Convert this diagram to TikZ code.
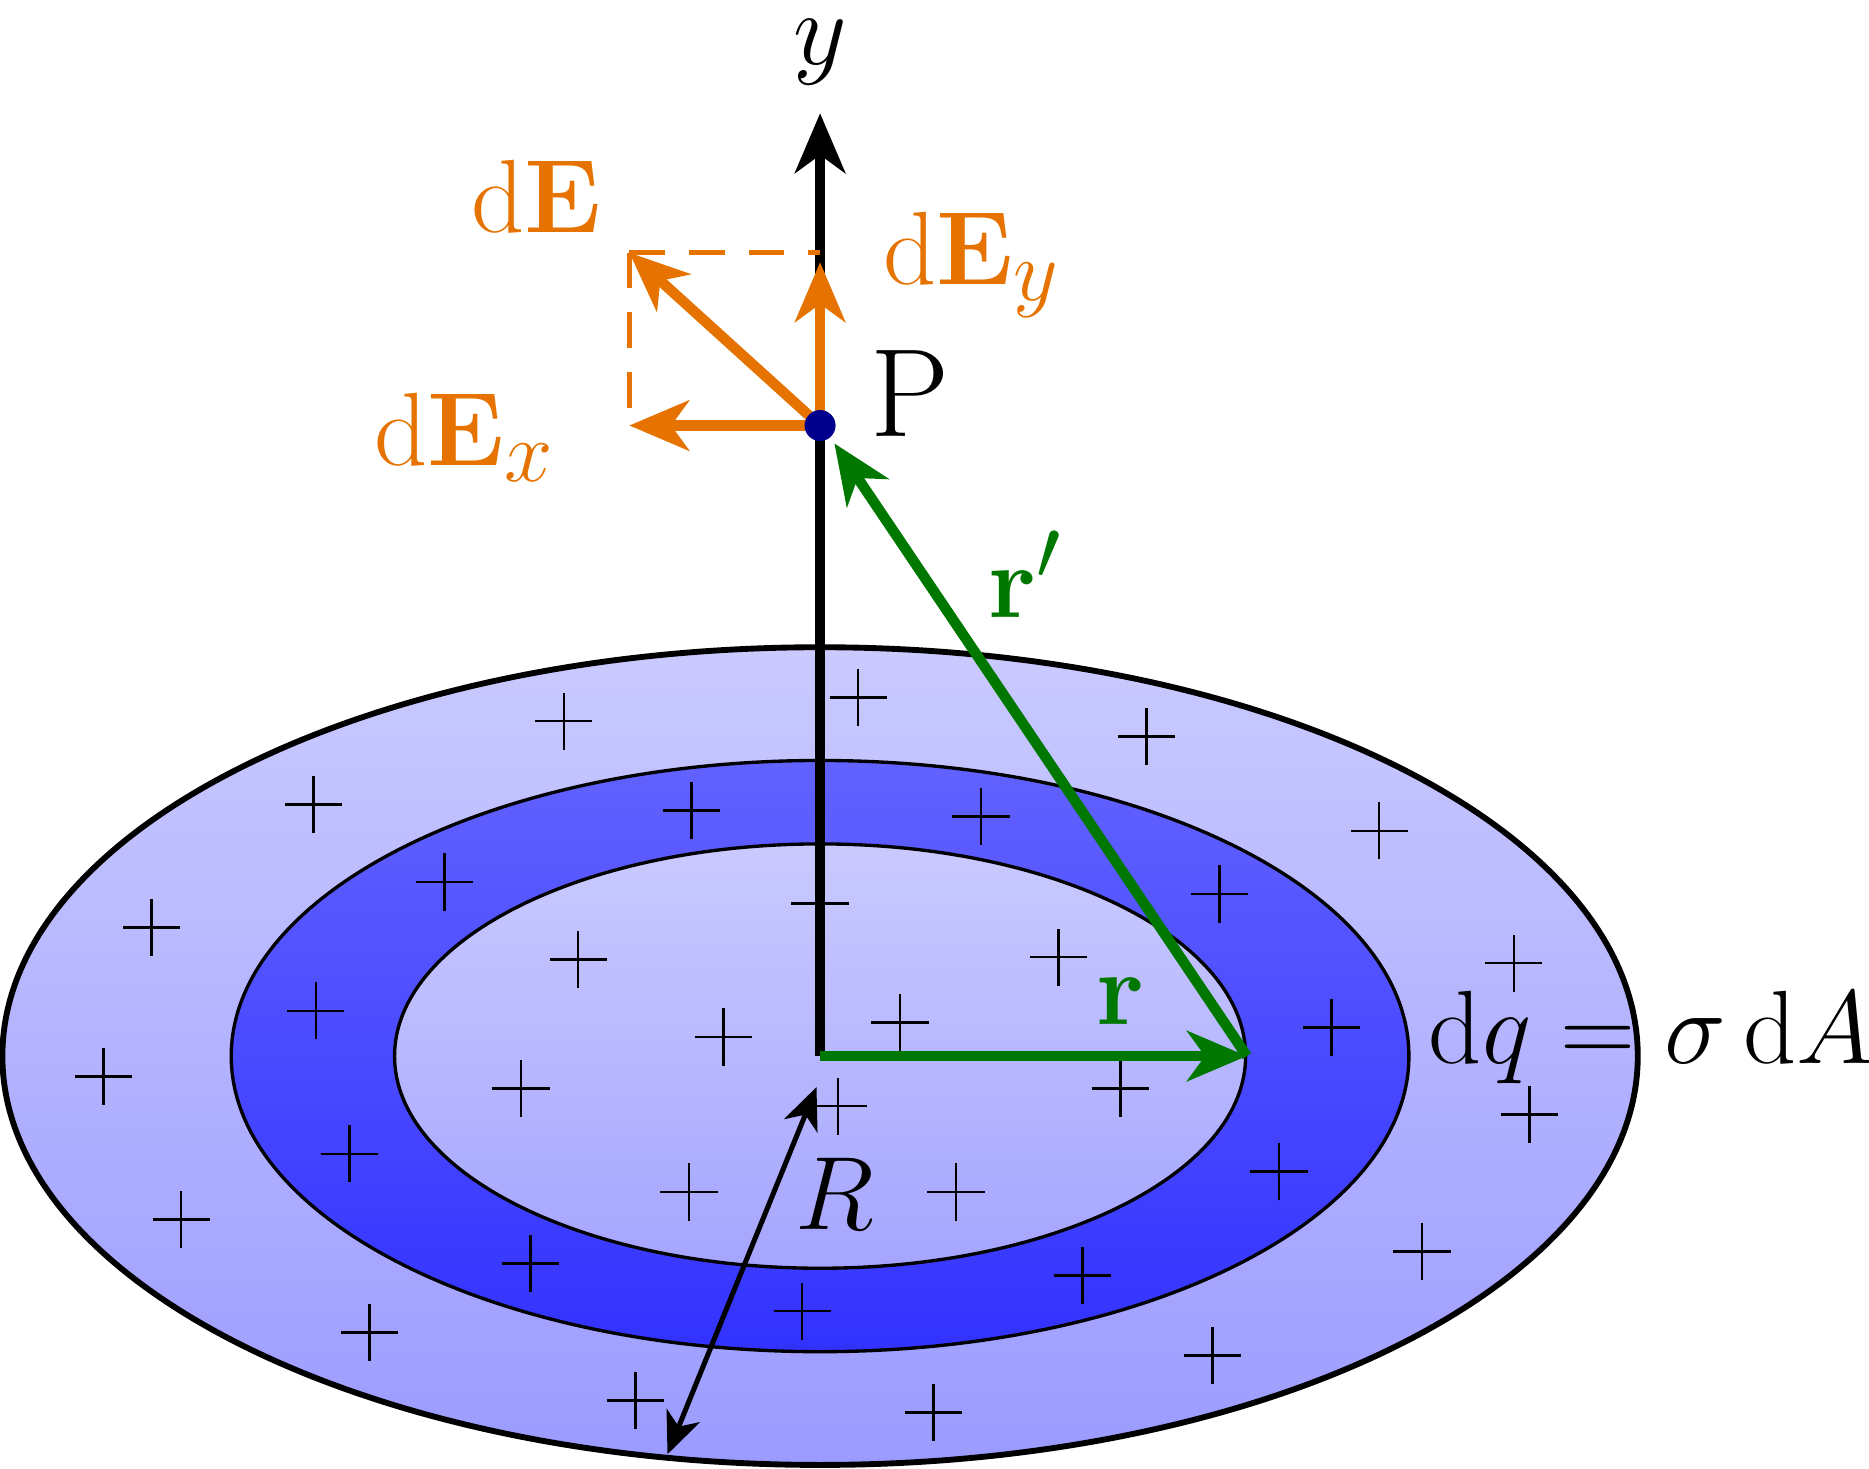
\documentclass[tikz,border=0pt]{standalone}
\usepackage{amsmath}
\usetikzlibrary{arrows.meta}
\definecolor{orng}{RGB}{230,115,0}
\definecolor{grn}{RGB}{0,120,0}
\definecolor{navy}{RGB}{0,0,140}
\definecolor{lt1}{RGB}{202,202,255}
\definecolor{lt2}{RGB}{155,155,255}
\definecolor{dk1}{RGB}{98,98,255}
\definecolor{dk2}{RGB}{50,50,255}
\tikzset{
  tip/.style={-{Stealth[length=0.5cm,width=0.42cm,inset=0.15cm]}},
  lbl/.style={font=\fontsize{30}{34}\selectfont, inner sep=0pt},
  pls/.style={line width=0.6pt},
}
\newcommand{\pl}[2]{\draw[pls] ({#1/100-0.24},{(1232-#2)/100}) -- ({#1/100+0.24},{(1232-#2)/100}) ({#1/100},{(1232-#2)/100-0.24}) -- ({#1/100},{(1232-#2)/100+0.24});}
\begin{document}
\begin{tikzpicture}
\useasboundingbox (0,0) rectangle (15.68,12.32);
\coordinate (O) at (6.88,3.46);
\shade[top color=lt1,bottom color=lt2,draw=black,line width=1.4pt] (O) ellipse [x radius=6.86,y radius=3.43];
\shade[top color=dk1,bottom color=dk2,draw=black,line width=0.8pt] (O) ellipse [x radius=4.94,y radius=2.48];
\shade[top color=lt1,bottom color=lt2!90!white,draw=black,line width=0.8pt] (O) ellipse [x radius=3.57,y radius=1.78];
\foreach \a/\b in {473/605,720/585,962/618,263/675,580/680,823/685,1157/697,373/740,1023/750,688/758,127/778,485/805,888/803,1270/808,265/848,755/858,607/870,1117/862,87/903,437/913,940/913,703/928,1283/935,293/968,1073/983,152/1023,578/1000,802/1000,1193/1050,445/1060,908/1070,673/1100,310/1118,1017/1137,533/1175,783/1185}{\pl{\a}{\b}}
\coordinate (P) at (6.88,8.75);
\coordinate (Rin) at (6.85,3.2);
\coordinate (Rout) at (5.6,0.12);
\coordinate (Q) at (10.46,3.46);
\coordinate (Ex) at (5.28,8.75);
\coordinate (Eyc) at (6.88,10.2);
\coordinate (E) at (5.28,10.2);
\draw[line width=2.5pt,tip] (O) -- (6.88,11.37);
\node[lbl] (ylab) at (6.88,11.88) {$y$};
\draw[orng,dash pattern=on 0.3cm off 0.2cm,line width=1.2pt] (E) -- (Eyc) (E) -- (Ex);
\draw[orng,line width=2.5pt,tip] (P) -- (Ex);
\draw[orng,line width=2.5pt,tip] (P) -- (6.88,10.12);
\draw[orng,line width=2.5pt,tip] (P) -- (E);
\draw[grn,line width=2.5pt,tip] (O) -- (Q);
\draw[grn,line width=2.5pt,tip] (Q) -- (7.0,8.6);
\draw[line width=1.2pt,{Stealth[length=0.35cm,width=0.3cm,inset=0.1cm]}-{Stealth[length=0.35cm,width=0.3cm,inset=0.1cm]}] (Rin) -- (Rout);
\fill[navy] (P) circle (0.13);
\node[lbl] (Plab) at (7.63,9.02) {P};
\node[lbl,text=orng] (dE) at (4.5,10.67) {$\mathrm{d}\mathbf{E}$};
\node[lbl,text=orng] (dEy) at (8.15,10.1) {$\mathrm{d}\mathbf{E}_y$};
\node[lbl,text=orng] (dEx) at (3.9,8.65) {$\mathrm{d}\mathbf{E}_x$};
\node[lbl,text=grn] (rl) at (9.4,3.92) {$\mathbf{r}$};
\node[lbl,text=grn] (rp) at (8.6,7.5) {$\mathbf{r}'$};
\node[lbl] (Rl) at (7.0,2.3) {$R$};
\node[lbl,anchor=west] (dq) at (11.98,3.62) {$\mathrm{d}q=\sigma\,\mathrm{d}A$};
\end{tikzpicture}
\end{document}
